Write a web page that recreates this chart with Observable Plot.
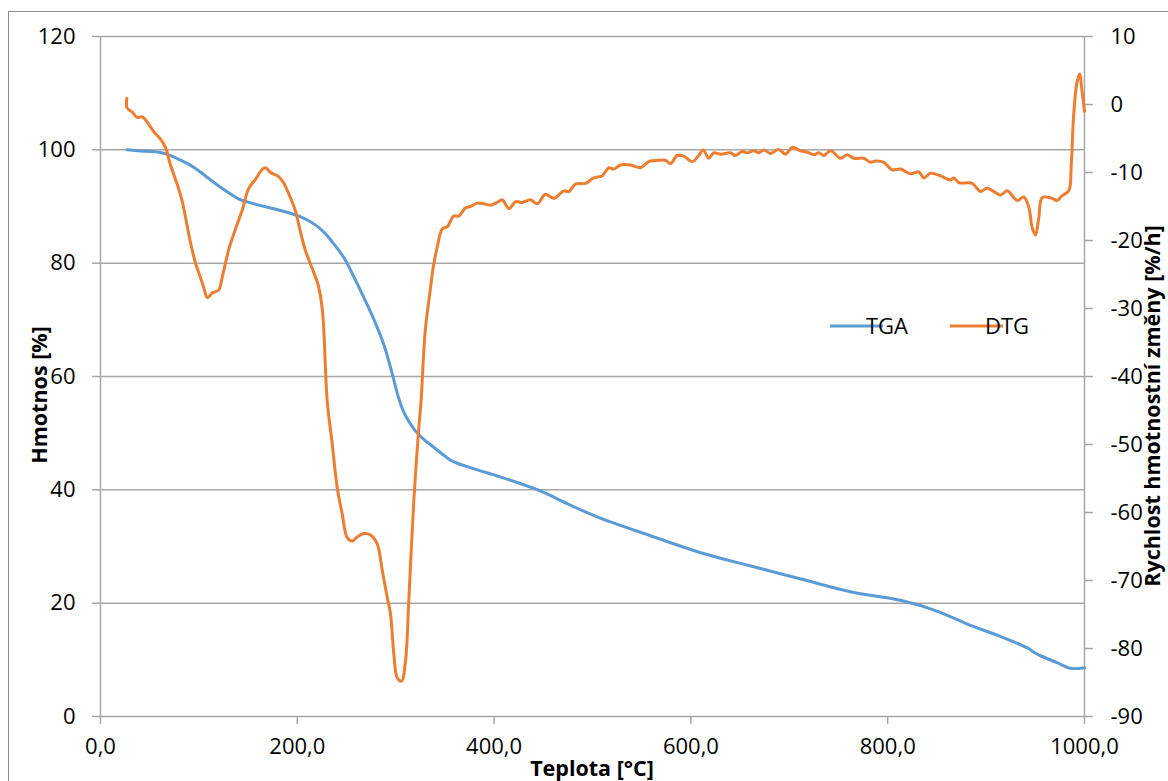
<!DOCTYPE html>
<html><head><meta charset="utf-8">
<script src="https://cdn.jsdelivr.net/npm/d3@7"></script>
<script src="https://cdn.jsdelivr.net/npm/@observablehq/plot@0.6"></script>
<style>
html,body{margin:0;padding:0;background:#fff;overflow:hidden;}
#wrap{position:relative;width:1168px;height:781px;overflow:hidden;}
#border{position:absolute;left:8px;top:11px;width:1400px;height:1000px;border:1px solid #8c8c8c;box-sizing:border-box;}
#chart{position:absolute;left:0;top:0;}
</style></head><body>
<div id="wrap"><div id="border"></div><div id="chart"></div></div>
<script>
// Temperature [°C] for TGA curve
const tgaT = [27, 41, 58, 68, 81, 95, 108, 122, 135, 142, 162, 183, 203, 218, 228, 238, 248, 258, 268, 278, 288, 296, 303, 308, 314, 320, 328, 338, 346, 356, 380, 406, 447, 475, 508, 559, 610, 660, 711, 762, 813, 850, 881, 915, 942, 952, 972, 986, 1000];
// TGA mass [%]
const tgaV = [100, 99.8, 99.6, 99.2, 98.2, 96.9, 95.2, 93.4, 91.9, 91.2, 90.2, 89.3, 88.2, 86.8, 85.3, 83.2, 80.8, 77.4, 73.8, 70.0, 65.6, 60.8, 56.2, 53.8, 51.9, 50.4, 49.0, 47.6, 46.5, 45.2, 43.7, 42.3, 39.8, 37.5, 35.0, 31.9, 28.9, 26.6, 24.3, 22.0, 20.5, 18.6, 16.3, 14.1, 12.1, 11.0, 9.5, 8.5, 8.6];

// Temperature [°C] for DTG curve
const dtgT = [26.8, 27.0, 32.2, 37.3, 42.4, 47.5, 54.2, 61, 66, 71.1, 77.9, 83, 91, 96.5, 100, 104.7, 108.7, 113.8, 120, 124, 130, 137.2, 144.3, 150.4, 157.5, 164.6, 167.7, 172.8, 181, 186, 193, 198, 203, 208.3, 215.4, 221.5, 225.6, 230.4, 235.5, 240.5, 245.6, 250.7, 255.8, 260.9, 267.6, 274.4, 281.2, 286.3, 291.4, 294.7, 298.1, 301.5, 305.9, 310, 313.3, 318.4, 323.5, 325.8, 330, 335, 338.4, 342.5, 347.2, 352.3, 359, 364, 371, 376, 382.8, 389.5, 396.3, 403.1, 408.2, 415, 421.8, 428.5, 437, 443.8, 452.2, 460.7, 470.8, 475.9, 482.7, 492.9, 501.3, 509.9, 516.6, 521.7, 528.5, 538.6, 548.8, 557.2, 569.1, 574.2, 579.3, 586.1, 592.8, 601.3, 608, 612.5, 618.2, 623.3, 630.1, 640.2, 645.3, 652.1, 657.2, 664, 669, 674.1, 680.9, 689.3, 696.1, 703, 711.4, 719.8, 724.9, 730, 735.1, 741.9, 752, 758.8, 765.6, 775.7, 782.5, 787.6, 796, 804.5, 813, 823.2, 831.6, 836.7, 843.5, 853.7, 863.8, 867.2, 872.3, 885.9, 894.3, 901.1, 914.6, 921.4, 931.6, 938.3, 943.4, 946.8, 950.2, 953.6, 957, 965.4, 972.3, 977.3, 984, 986.5, 989, 992.3, 995, 997.5, 1000];
// DTG rate of mass change [%/h]
const dtgV = [0.9, -0.5, -1.1, -1.9, -1.8, -2.6, -4.0, -5.1, -6.3, -8.9, -11.7, -14.2, -20, -23.3, -24.8, -26.8, -28.4, -27.7, -27.3, -25.2, -21.5, -18.3, -15.4, -12.4, -11, -9.5, -9.3, -10, -10.6, -11.5, -13.7, -15.6, -18.6, -21.5, -24.2, -26.7, -30.4, -43.6, -49.9, -56.3, -60.2, -63.7, -64.2, -63.6, -63.1, -63.3, -64.6, -68.5, -72.5, -74.9, -80.8, -84.3, -84.8, -81.8, -73, -58.3, -47.5, -43.6, -33.3, -27.4, -23.7, -20.8, -18.3, -18.0, -16.4, -16.4, -15.2, -15.0, -14.5, -14.6, -14.8, -14.4, -14.0, -15.3, -14.3, -14.4, -14.0, -14.6, -13.2, -13.8, -12.7, -12.8, -11.7, -11.6, -10.8, -10.5, -9.3, -9.5, -8.9, -8.9, -9.3, -8.4, -8.2, -8.2, -8.7, -7.5, -7.6, -8.4, -7.5, -6.7, -7.9, -7.1, -7.3, -7.1, -7.5, -6.9, -7.1, -6.8, -7.1, -6.7, -7.2, -6.6, -7.3, -6.3, -6.8, -7.1, -7.4, -7.1, -7.5, -6.8, -7.9, -7.4, -7.9, -7.9, -8.5, -8.3, -8.5, -9.6, -9.5, -10.2, -9.9, -10.8, -10.1, -10.5, -11.1, -10.8, -11.5, -11.6, -12.8, -12.3, -13.3, -12.7, -14.1, -13.6, -15.1, -18.1, -19.2, -16.6, -13.7, -13.7, -14.1, -13.4, -12.7, -9.0, -1.5, 3.2, 4.5, 2.0, -1.0];

// Axis ticks
const xTicks = [0, 200, 400, 600, 800, 1000];
const leftTicks = [0, 20, 40, 60, 80, 100, 120];
const rightTicks = [-90, -80, -70, -60, -50, -40, -30, -20, -10, 0, 10];

// Labels
const seriesNames = ["TGA", "DTG"];
const seriesColors = ["#5B9BD5", "#ED7D31"];
const xTitle = "Teplota [°C]";
const yLeftTitle = "Hmotnos [%]";
const yRightTitle = "Rychlost hmotnostní změny [%/h]";

// map right axis (-90..10) to left axis (0..120)
const toLeft = d => (d + 90) * 1.2;
const fromLeft = v => v / 1.2 - 90;

const tga = tgaT.map((t, i) => ({t, v: tgaV[i]}));
const dtg = dtgT.map((t, i) => ({t, v: toLeft(dtgV[i])}));

const gridColor = "#a6a6a6";
const font = "'Open Sans', 'Noto Sans', sans-serif";

const svgEl = Plot.plot({
  width: 1168, height: 781,
  marginLeft: 100, marginRight: 84, marginTop: 36, marginBottom: 65,
  style: {fontFamily: font, fontSize: "22px", color: "#000", background: "transparent", overflow: "visible"},
  x: {domain: [0, 1000]},
  y: {domain: [0, 120]},
  marks: [
    Plot.ruleY(leftTicks, {stroke: gridColor, strokeWidth: 1.5}),
    Plot.ruleX([0, 1000], {y1: 0, y2: 120, stroke: gridColor, strokeWidth: 1.5}),
    Plot.axisX({ticks: xTicks, tickFormat: d => d.toFixed(1).replace(".", ","), tickSize: 8, tickPadding: 14, stroke: gridColor, strokeWidth: 1.5, label: null}),
    Plot.axisY({anchor: "left", ticks: leftTicks, tickFormat: d => String(d), tickSize: 8, tickPadding: 17, stroke: gridColor, strokeWidth: 1.5, label: null}),
    Plot.axisY({anchor: "right", ticks: rightTicks.map(toLeft), tickFormat: v => String(Math.round(fromLeft(v))), tickSize: 8, tickPadding: 18, stroke: gridColor, strokeWidth: 1.5, label: null}),
    Plot.line(tga, {x: "t", y: "v", stroke: seriesColors[0], strokeWidth: 3, curve: "catmull-rom"}),
    Plot.line(dtg, {x: "t", y: "v", stroke: seriesColors[1], strokeWidth: 3, curve: "catmull-rom"})
  ]
});
document.getElementById("chart").appendChild(svgEl);

const svg = d3.select(svgEl);
const tstyle = s => s.attr("font-family", font).attr("font-weight", "bold").attr("font-size", 21.5).attr("fill", "#000").attr("text-anchor", "middle");
svg.append("text").text(xTitle).call(tstyle).attr("x", 592).attr("y", 776);
svg.append("text").text(yLeftTitle).call(tstyle).attr("transform", "translate(47,395) rotate(-90)");
svg.append("text").text(yRightTitle).call(tstyle).attr("transform", "translate(1160,406) rotate(-90)");

// Legend
const leg = svg.append("g").attr("font-family", font).attr("font-size", 22);
const legX = [830, 950];
seriesNames.forEach((name, i) => {
  leg.append("line").attr("x1", legX[i]).attr("x2", legX[i] + 53).attr("y1", 326).attr("y2", 326)
    .attr("stroke", seriesColors[i]).attr("stroke-width", 3);
  leg.append("text").text(name).attr("x", legX[i] + 57).attr("y", 326).attr("dy", "0.35em").attr("fill", "#000");
});
</script>
</body></html>
